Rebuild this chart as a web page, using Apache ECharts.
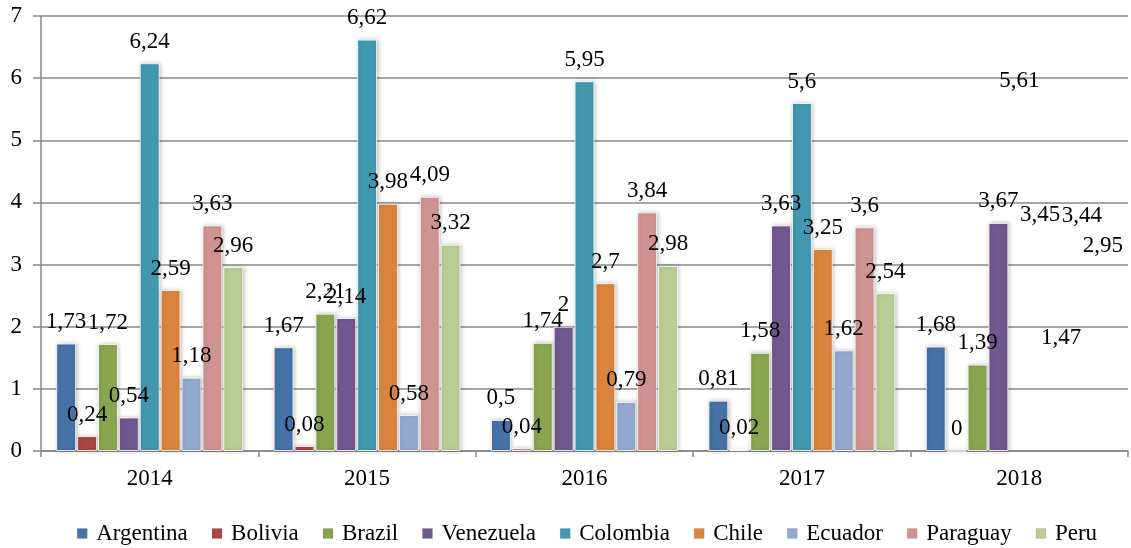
<!DOCTYPE html>
<html>
<head>
<meta charset="utf-8">
<script src="https://cdn.jsdelivr.net/npm/echarts@6/dist/echarts.min.js"></script>
<style>
  html, body { margin: 0; padding: 0; background: #fff; }
  #chart { width: 1131px; height: 548px; }
</style>
</head>
<body>
<div id="chart"></div>
<script>
// years on the x axis
const years = ['2014', '2015', '2016', '2017', '2018'];
const yTicks = [0, 1, 2, 3, 4, 5, 6, 7];

// one array per country, values per year
const argentina = [1.73, 1.67, 0.5, 0.81, 1.68];
const bolivia   = [0.24, 0.08, 0.04, 0.02, 0];
const brazil    = [1.72, 2.21, 1.74, 1.58, 1.39];
const venezuela = [0.54, 2.14, 2, 3.63, 3.67];
const colombia  = [6.24, 6.62, 5.95, 5.6, 5.61];
const chile     = [2.59, 3.98, 2.7, 3.25, 3.45];
const ecuador   = [1.18, 0.58, 0.79, 1.62, 1.47];
const paraguay  = [3.63, 4.09, 3.84, 3.6, 3.44];
const peru      = [2.96, 3.32, 2.98, 2.54, 2.95];

// in the picture these 2018 bars are not drawn, only their labels
const noBar2018 = ['Colombia', 'Chile', 'Ecuador', 'Paraguay', 'Peru'];

const countries = [
  { name: 'Argentina', data: argentina, color: '#4572A7' },
  { name: 'Bolivia',   data: bolivia,   color: '#AA4643' },
  { name: 'Brazil',    data: brazil,    color: '#89A54E' },
  { name: 'Venezuela', data: venezuela, color: '#71588F' },
  { name: 'Colombia',  data: colombia,  color: '#4198AF' },
  { name: 'Chile',     data: chile,     color: '#DB843D' },
  { name: 'Ecuador',   data: ecuador,   color: '#93A9CF' },
  { name: 'Paraguay',  data: paraguay,  color: '#D19392' },
  { name: 'Peru',      data: peru,      color: '#B9CD96' }
];

const font = "'Liberation Serif', 'Times New Roman', serif";

const series = countries.map(function (c) {
  return {
    name: c.name,
    type: 'bar',
    barGap: '5%',
    barCategoryGap: '14%',
    itemStyle: {
      color: c.color,
      borderColor: 'rgba(255,255,255,0.8)',
      borderWidth: 1,
      shadowBlur: 4,
      shadowColor: 'rgba(0,0,0,0.25)',
      shadowOffsetX: 1
    },
    label: {
      show: true,
      position: 'top',
      distance: 10,
      fontFamily: font,
      fontSize: 23,
      color: '#000',
      formatter: function (p) { return String(p.value).replace('.', ','); }
    },
    data: c.data.map(function (v, i) {
      if (years[i] === '2018' && noBar2018.indexOf(c.name) >= 0) {
        return { value: v, itemStyle: { color: 'transparent', borderColor: 'transparent', shadowColor: 'transparent' } };
      }
      return v;
    })
  };
});

var chartDom = document.getElementById('chart');
var myChart = echarts.init(chartDom);
var option;

option = {
  animation: false,
  backgroundColor: '#fff',
  grid: { left: 41, right: 3, top: 16, bottom: 97, containLabel: false },
  legend: {
    data: countries.map(function (c) {
      return { name: c.name, itemStyle: { borderColor: 'rgba(0,0,0,0.15)', borderWidth: 0.5 } };
    }),
    left: 72,
    top: 517,
    icon: 'rect',
    itemWidth: 10,
    itemHeight: 10,
    itemGap: 24,
    textStyle: { fontFamily: font, fontSize: 23, color: '#000', padding: [0, 0, 0, 4] }
  },
  xAxis: {
    type: 'category',
    data: years,
    axisLine: { show: true, lineStyle: { color: '#888', width: 1.5 } },
    axisTick: { show: true, length: 6, lineStyle: { color: '#888', width: 1.5 } },
    axisLabel: { fontFamily: font, fontSize: 23, color: '#000', margin: 16 }
  },
  yAxis: {
    type: 'value',
    min: yTicks[0],
    max: yTicks[yTicks.length - 1],
    interval: 1,
    axisLine: { show: true, lineStyle: { color: '#888', width: 1.5 } },
    axisTick: { show: true, length: 8, lineStyle: { color: '#888', width: 1.5 } },
    axisLabel: { fontFamily: font, fontSize: 23, color: '#000', margin: 19 },
    splitLine: { show: true, lineStyle: { color: '#888', width: 1.5 } }
  },
  series: series
};

option && myChart.setOption(option);
</script>
</body>
</html>
